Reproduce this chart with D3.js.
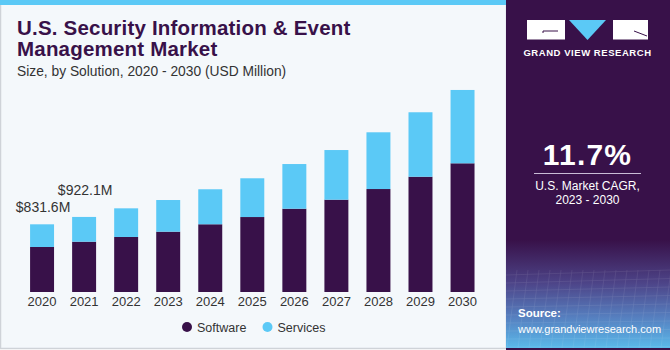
<!DOCTYPE html>
<html>
<head>
<meta charset="utf-8">
<script src="https://cdn.jsdelivr.net/npm/d3@7"></script>
<style>
  html, body { margin: 0; padding: 0; background: #fff; }
  svg { display: block; }
  text { font-family: "Liberation Sans", Arial, sans-serif; }
</style>
</head>
<body>
<svg id="chart" width="670" height="350"></svg>
<script>
const years = ["2020","2021","2022","2023","2024","2025","2026","2027","2028","2029","2030"];
const software = [553, 618, 676, 741, 832, 921, 1023, 1134, 1265, 1416, 1581];
const services = [278.6, 304.1, 352, 389, 430, 476, 549, 610, 697, 792, 901];
const seriesNames = ["Software", "Services"];
const seriesColors = ["#381149", "#5bc9f6"];
const valueLabels = [{year: "2020", text: "$831.6M"}, {year: "2021", text: "$922.1M"}];

const svg = d3.select("#chart");

// backgrounds
svg.append("rect").attr("x", 0).attr("y", 0).attr("width", 670).attr("height", 350).attr("fill", "#ffffff");
svg.append("rect").attr("x", 0.5).attr("y", 0.5).attr("width", 506).attr("height", 348).attr("fill", "#f4f8fb").attr("stroke", "#cfd3d8").attr("stroke-width", 1.5);
svg.append("rect").attr("x", 0).attr("y", 0).attr("width", 506).attr("height", 5).attr("fill", "#5bc9f6");

// right panel
const defs = svg.append("defs");
const grad = defs.append("linearGradient").attr("id", "srcGrad").attr("x1", 0).attr("y1", 0).attr("x2", 0).attr("y2", 1);
grad.append("stop").attr("offset", "0%").attr("stop-color", "#381149");
grad.append("stop").attr("offset", "40%").attr("stop-color", "#4d4488");
grad.append("stop").attr("offset", "72%").attr("stop-color", "#5680c0");
grad.append("stop").attr("offset", "100%").attr("stop-color", "#5ab9ea");
svg.append("rect").attr("x", 506).attr("y", 0).attr("width", 164).attr("height", 350).attr("fill", "#381149");
svg.append("rect").attr("x", 506).attr("y", 240).attr("width", 164).attr("height", 108).attr("fill", "url(#srcGrad)");
// faint grid texture
const gridG = svg.append("g").attr("opacity", 0.12).attr("stroke", "#ffffff").attr("stroke-width", 0.6);
for (let i = 0; i < 16; i++) {
  gridG.append("line").attr("x1", 506 + i * 11).attr("y1", 270).attr("x2", 506 + i * 11 - 10).attr("y2", 348);
}
for (let j = 0; j < 10; j++) {
  gridG.append("line").attr("x1", 506).attr("y1", 275 + j * 8).attr("x2", 670).attr("y2", 270 + j * 8.5);
}

// logo
const logo = svg.append("g");
logo.append("rect").attr("x", 527).attr("y", 20).attr("width", 38).attr("height", 19.5).attr("fill", "#ffffff");
logo.append("path").attr("d", "M543,31 L543,33 M543,31 L558,31").attr("stroke", "#381149").attr("stroke-width", 1).attr("fill", "none");
logo.append("path").attr("d", "M569,20 L606,20 L587.5,40 Z").attr("fill", "#5bc9f6");
logo.append("rect").attr("x", 613).attr("y", 20).attr("width", 35).attr("height", 19.5).attr("fill", "#ffffff");
logo.append("path").attr("d", "M634,31 L647,36").attr("stroke", "#381149").attr("stroke-width", 1).attr("fill", "none");
svg.append("text").attr("x", 587.5).attr("y", 55.5).attr("text-anchor", "middle")
  .attr("fill", "#ffffff").attr("font-size", 9.5).attr("font-weight", "bold").attr("letter-spacing", 0.55)
  .text("GRAND VIEW RESEARCH");

// CAGR
svg.append("text").attr("x", 587.5).attr("y", 165).attr("text-anchor", "middle")
  .attr("fill", "#ffffff").attr("font-size", 30).attr("font-weight", "bold").attr("letter-spacing", 1.2).text("11.7%");
svg.append("line").attr("x1", 534).attr("x2", 641).attr("y1", 173.5).attr("y2", 173.5).attr("stroke", "#c9bcd6").attr("stroke-width", 1);
svg.append("text").attr("x", 587.5).attr("y", 189.5).attr("text-anchor", "middle")
  .attr("fill", "#ffffff").attr("font-size", 12).text("U.S. Market CAGR,");
svg.append("text").attr("x", 587.5).attr("y", 203.5).attr("text-anchor", "middle")
  .attr("fill", "#ffffff").attr("font-size", 12).text("2023 - 2030");

// source
svg.append("text").attr("x", 518).attr("y", 317).attr("fill", "#ffffff").attr("font-size", 11.5).attr("font-weight", "bold").text("Source:");
svg.append("text").attr("x", 518).attr("y", 333).attr("fill", "#ffffff").attr("font-size", 11).text("www.grandviewresearch.com");

// titles
svg.append("text").attr("x", 17).attr("y", 35).attr("fill", "#381149").attr("font-size", 20.5).attr("font-weight", "900").attr("letter-spacing", 0.2)
  .text("U.S. Security Information & Event");
svg.append("text").attr("x", 17).attr("y", 56).attr("fill", "#381149").attr("font-size", 20.5).attr("font-weight", "900").attr("letter-spacing", 0.2)
  .text("Management Market");
svg.append("text").attr("x", 17).attr("y", 76).attr("fill", "#333333").attr("font-size", 13.8)
  .text("Size, by Solution, 2020 - 2030 (USD Million)");

// scales
const x = d3.scaleBand().domain(years).range([12, 492.6]).paddingInner(0.43).paddingOuter(0.43);
const y = d3.scaleLinear().domain([0, 2500]).range([292, 88.5]);

const table = years.map((yr, i) => ({year: yr, Software: software[i], Services: services[i]}));
const stack = d3.stack().keys(seriesNames)(table);

const barsG = svg.append("g");
stack.forEach((layer, li) => {
  barsG.append("g").attr("fill", seriesColors[li])
    .selectAll("rect").data(layer).join("rect")
    .attr("x", d => x(d.data.year))
    .attr("y", d => y(d[1]))
    .attr("width", x.bandwidth())
    .attr("height", d => y(d[0]) - y(d[1]));
});

// x axis
const xAxis = d3.axisBottom(x).tickSize(0).tickPadding(0);
const axG = svg.append("g").attr("transform", "translate(0,292)").call(xAxis);
axG.select(".domain").remove();
axG.selectAll("text").attr("font-size", 13).attr("fill", "#333333")
  .attr("font-family", "Liberation Sans, Arial, sans-serif").attr("dy", "14px");

// value labels (second label raised higher, as in the original)
const totals = {};
years.forEach((yr, i) => totals[yr] = software[i] + services[i]);
const labelGap = [12.5, 22];
svg.selectAll(".vlabel").data(valueLabels).join("text")
  .attr("class", "vlabel")
  .attr("x", d => x(d.year) + x.bandwidth() / 2 + 1)
  .attr("y", (d, i) => y(totals[d.year]) - labelGap[i])
  .attr("text-anchor", "middle").attr("font-size", 14).attr("fill", "#333333")
  .text(d => d.text);

// legend
const legend = svg.append("g").attr("transform", "translate(0,327)");
const legX = [187, 267.5];
seriesNames.forEach((name, i) => {
  legend.append("circle").attr("cx", legX[i]).attr("cy", 0).attr("r", 5).attr("fill", seriesColors[i]);
  legend.append("text").attr("x", legX[i] + 10).attr("y", 4.5).attr("font-size", 12.5).attr("fill", "#333333").text(name);
});
</script>
</body>
</html>
